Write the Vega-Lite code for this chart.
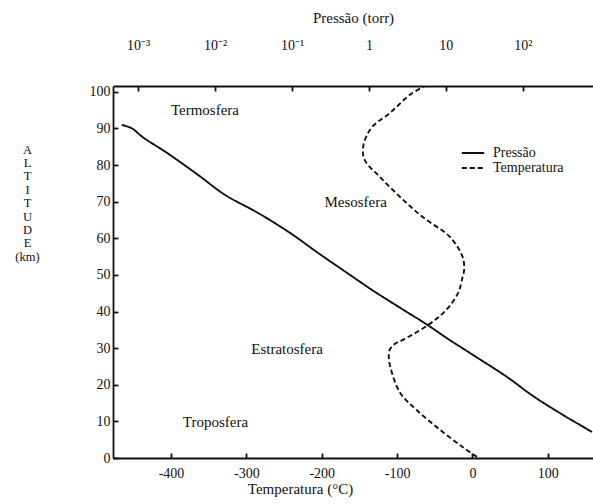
{
  "$schema": "https://vega.github.io/schema/vega-lite/v6.json",
  "width": 480,
  "height": 372,
  "autosize": {"type": "none"},
  "padding": {"left": 113, "top": 86, "right": 0, "bottom": 46},
  "background": "white",
  "config": {
    "view": {"stroke": null},
    "font": "Liberation Serif",
    "axis": {
      "grid": false,
      "domainColor": "#111",
      "tickColor": "#111",
      "labelColor": "#111",
      "titleColor": "#111",
      "labelFont": "Liberation Serif",
      "titleFont": "Liberation Serif",
      "labelFontSize": 14,
      "titleFontSize": 15,
      "titleFontWeight": "normal",
      "tickSize": -5,
      "domainWidth": 1.8,
      "tickWidth": 1.8
    },
    "text": {"font": "Liberation Serif"}
  },
  "datasets": {
    "pressao": [
      {"serie": "Pressão", "alt": 90.98, "pressao": 0.00061},
      {"serie": "Pressão", "alt": 90.08, "pressao": 0.00082},
      {"serie": "Pressão", "alt": 87.57, "pressao": 0.001155},
      {"serie": "Pressão", "alt": 83.33, "pressao": 0.00237},
      {"serie": "Pressão", "alt": 77.32, "pressao": 0.0060},
      {"serie": "Pressão", "alt": 71.86, "pressao": 0.01345},
      {"serie": "Pressão", "alt": 66.94, "pressao": 0.0361},
      {"serie": "Pressão", "alt": 61.48, "pressao": 0.0942},
      {"serie": "Pressão", "alt": 56.01, "pressao": 0.218},
      {"serie": "Pressão", "alt": 50.0, "pressao": 0.568},
      {"serie": "Pressão", "alt": 45.9, "pressao": 1.097},
      {"serie": "Pressão", "alt": 40.71, "pressao": 2.69},
      {"serie": "Pressão", "alt": 36.61, "pressao": 5.52},
      {"serie": "Pressão", "alt": 32.51, "pressao": 10.7},
      {"serie": "Pressão", "alt": 28.14, "pressao": 22.6},
      {"serie": "Pressão", "alt": 22.13, "pressao": 62.5},
      {"serie": "Pressão", "alt": 16.94, "pressao": 136},
      {"serie": "Pressão", "alt": 11.75, "pressao": 334},
      {"serie": "Pressão", "alt": 9.02, "pressao": 556},
      {"serie": "Pressão", "alt": 7.1, "pressao": 796}
    ],
    "temperatura": [
      {"serie": "Temperatura", "alt": 101.5, "temp": -64},
      {"serie": "Temperatura", "alt": 99.2, "temp": -83},
      {"serie": "Temperatura", "alt": 94.3, "temp": -109},
      {"serie": "Temperatura", "alt": 90.2, "temp": -134},
      {"serie": "Temperatura", "alt": 85.0, "temp": -145},
      {"serie": "Temperatura", "alt": 81.4, "temp": -143},
      {"serie": "Temperatura", "alt": 76.8, "temp": -123},
      {"serie": "Temperatura", "alt": 71.3, "temp": -96},
      {"serie": "Temperatura", "alt": 65.8, "temp": -66},
      {"serie": "Temperatura", "alt": 60.4, "temp": -30},
      {"serie": "Temperatura", "alt": 54.9, "temp": -13},
      {"serie": "Temperatura", "alt": 51.4, "temp": -11},
      {"serie": "Temperatura", "alt": 49.5, "temp": -13},
      {"serie": "Temperatura", "alt": 45.1, "temp": -19},
      {"serie": "Temperatura", "alt": 40.4, "temp": -35},
      {"serie": "Temperatura", "alt": 36.3, "temp": -59},
      {"serie": "Temperatura", "alt": 32.4, "temp": -91},
      {"serie": "Temperatura", "alt": 31.0, "temp": -104},
      {"serie": "Temperatura", "alt": 29.5, "temp": -110},
      {"serie": "Temperatura", "alt": 27.5, "temp": -111},
      {"serie": "Temperatura", "alt": 24.9, "temp": -109},
      {"serie": "Temperatura", "alt": 17.8, "temp": -96},
      {"serie": "Temperatura", "alt": 13.1, "temp": -74},
      {"serie": "Temperatura", "alt": 7.7, "temp": -43},
      {"serie": "Temperatura", "alt": 3.0, "temp": -13},
      {"serie": "Temperatura", "alt": 0.3, "temp": 6}
    ],
    "camadas": [
      {"rotulo": "Termosfera", "temp": -355, "alt": 95},
      {"rotulo": "Mesosfera", "temp": -155, "alt": 70},
      {"rotulo": "Estratosfera", "temp": -246, "alt": 29.8},
      {"rotulo": "Troposfera", "temp": -341, "alt": 9.8}
    ]
  },
  "encoding": {
    "y": {
      "field": "alt",
      "type": "quantitative",
      "scale": {"domain": [0, 101.6], "nice": false},
      "axis": {
        "values": [0, 10, 20, 30, 40, 50, 60, 70, 80, 90, 100],
        "labelPadding": 8,
        "title": ["A", "L", "T", "I", "T", "U", "D", "E", "(km)"],
        "titleAngle": 0,
        "titleFontSize": 12.5,
        "titleX": -86,
        "titleY": 57,
        "titleAlign": "center",
        "titleBaseline": "top",
        "titleLineHeight": 13.4
      }
    }
  },
  "layer": [
    {
      "data": {"name": "pressao"},
      "mark": {"type": "line", "color": "#111", "strokeWidth": 1.9, "clip": true, "interpolate": "catmull-rom"},
      "encoding": {
        "x": {
          "field": "pressao",
          "type": "quantitative",
          "scale": {"type": "log", "domain": [0.00047, 820], "nice": false},
          "axis": {
            "orient": "top",
            "values": [0.001, 0.01, 0.1, 1, 10, 100],
            "labelExpr": "datum.value < 0.005 ? '10⁻³' : datum.value < 0.05 ? '10⁻²' : datum.value < 0.5 ? '10⁻¹' : datum.value < 5 ? '1' : datum.value < 50 ? '10' : '10²'",
            "labelPadding": 39,
            "title": "Pressão (torr)",
            "titlePadding": 13
          }
        },
        "order": {"field": "alt", "type": "quantitative"},
        "strokeDash": {
          "field": "serie",
          "type": "nominal",
          "scale": {"domain": ["Pressão", "Temperatura"], "range": [[1, 0], [5, 3]]},
          "legend": {
            "orient": "none",
            "legendX": 352,
            "legendY": 59,
            "title": null,
            "symbolType": "M-1.6,0H1.6",
            "symbolSize": 196,
            "symbolStrokeColor": "#111",
            "symbolStrokeWidth": 1.8,
            "labelFont": "Liberation Serif",
            "labelFontSize": 14,
            "labelColor": "#111",
            "rowPadding": 0,
            "labelOffset": 12
          }
        }
      }
    },
    {
      "data": {"name": "temperatura"},
      "mark": {"type": "line", "color": "#111", "strokeWidth": 1.9, "clip": true, "interpolate": "catmull-rom"},
      "encoding": {
        "x": {
          "field": "temp",
          "type": "quantitative",
          "scale": {"domain": [-477, 160], "nice": false, "zero": false},
          "axis": {
            "orient": "bottom",
            "values": [-400, -300, -200, -100, 0, 100],
            "labelExpr": "datum.value + ''",
            "labelPadding": 13,
            "title": "Temperatura (°C)",
            "titleX": 187,
            "titleAlign": "center",
            "titlePadding": 1
          }
        },
        "order": {"field": "alt", "type": "quantitative"},
        "strokeDash": {"field": "serie", "type": "nominal"}
      }
    },
    {
      "data": {"name": "camadas"},
      "mark": {"type": "text", "fontSize": 15, "color": "#111", "font": "Liberation Serif"},
      "encoding": {
        "x": {
          "field": "temp",
          "type": "quantitative",
          "scale": {"domain": [-477, 160], "nice": false, "zero": false},
          "axis": null
        },
        "text": {"field": "rotulo"}
      }
    }
  ],
  "resolve": {"scale": {"x": "independent"}, "axis": {"x": "independent"}}
}
